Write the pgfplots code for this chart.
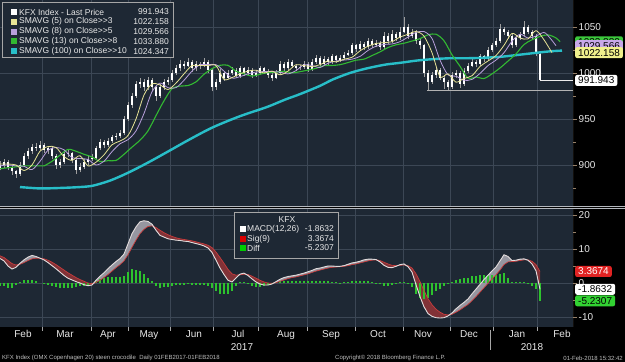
\documentclass[border=0pt]{standalone}
\usepackage{pgfplots}
\pgfplotsset{compat=1.18}
\usepackage{pgfplotstable}
\usepgfplotslibrary{fillbetween}
\usepackage{fontspec}
\setmainfont{Liberation Sans}
\definecolor{bgc}{RGB}{30,40,52}
\definecolor{gridc}{RGB}{60,71,85}
\definecolor{axc}{RGB}{150,128,105}
\definecolor{sma5}{RGB}{232,228,150}
\definecolor{sma8}{RGB}{185,160,220}
\definecolor{sma13}{RGB}{50,185,50}
\definecolor{sma100}{RGB}{40,190,200}
\definecolor{macdc}{RGB}{225,220,220}
\definecolor{sigc}{RGB}{200,60,60}
\definecolor{bandr}{RGB}{130,50,55}
\definecolor{bandg}{RGB}{150,150,160}
\definecolor{histc}{RGB}{45,195,45}
\definecolor{footc}{RGB}{190,190,190}
\definecolor{txtc}{RGB}{232,232,232}
\definecolor{sepc}{RGB}{180,184,190}
\pagecolor{black}

\pgfplotstableread{
x o h l c
0 897 904 894 900
4 900 906 897 903
8 903 905 895 898
12 898 900 889 893
16 893 895 886 890
20 890 903 888 900
24 900 913 898 910
28 910 918 907 915
32 915 923 912 920
36 920 924 915 918
40 918 926 916 922
44 922 924 913 916
48 916 921 912 918
52 918 919 906 910
56 910 912 896 900
60 900 907 897 903
64 903 915 901 912
68 912 917 909 913
72 913 914 902 905
76 905 907 890 895
80 895 902 892 898
84 898 906 896 903
88 903 910 900 907
92 907 912 904 908
96 908 921 906 918
100 918 928 916 925
104 925 927 918 922
108 922 929 920 926
112 926 933 924 930
116 930 935 927 932
120 932 938 929 935
124 935 953 933 950
128 950 968 948 965
132 965 978 962 975
136 975 991 973 988
140 988 995 984 990
144 990 993 980 985
148 985 996 982 992
152 992 994 980 985
156 985 987 970 975
160 975 988 973 985
164 985 993 982 990
168 990 996 987 992
172 992 1003 990 1000
176 1000 1009 998 1005
180 1005 1014 1002 1010
184 1010 1013 1004 1008
188 1008 1016 1006 1012
192 1012 1014 1001 1005
196 1005 1013 1002 1010
200 1010 1012 1004 1008
204 1008 1016 1006 1012
208 1012 1014 1000 1003
212 1003 1005 980 985
216 985 993 982 990
220 990 1004 988 1000
224 1000 1002 991 995
228 995 1003 993 1000
232 1000 1007 998 1003
236 1003 1005 994 997
240 997 1008 995 1005
244 1005 1007 997 1000
248 1000 1006 998 1003
252 1003 1005 995 998
256 998 1003 996 1000
260 1000 1008 998 1005
264 1005 1007 999 1002
268 1002 1004 995 998
272 998 1000 991 995
276 995 1003 993 1000
280 1000 1013 998 1010
284 1010 1012 1002 1005
288 1005 1015 1003 1012
292 1012 1014 1005 1008
296 1008 1010 1002 1005
300 1005 1009 1003 1006
304 1006 1013 1004 1010
308 1010 1012 1001 1004
312 1004 1015 1002 1012
316 1012 1019 1010 1016
320 1016 1018 1007 1010
324 1010 1018 1008 1015
328 1015 1017 1009 1012
332 1012 1021 1010 1018
336 1018 1020 1011 1014
340 1014 1019 1012 1016
344 1016 1023 1014 1020
348 1020 1025 1018 1022
352 1022 1033 1020 1030
356 1030 1032 1023 1026
360 1026 1035 1024 1032
364 1032 1034 1025 1028
368 1028 1038 1026 1035
372 1035 1037 1027 1030
376 1030 1036 1028 1033
380 1033 1035 1025 1028
384 1028 1045 1026 1040
388 1040 1043 1032 1035
392 1035 1047 1033 1042
396 1042 1044 1035 1038
400 1038 1050 1036 1045
404 1045 1061 1043 1050
408 1050 1053 1037 1040
412 1040 1048 1038 1045
416 1045 1047 1032 1035
420 1035 1037 1026 1030
424 1030 1032 996 1000
428 1000 1003 981 990
432 990 1001 988 998
436 998 1006 995 1003
440 1003 1005 992 995
444 995 998 983 990
448 990 992 981 985
452 985 1001 983 998
456 998 1003 995 1000
460 1000 1002 984 988
464 988 1005 986 1002
468 1002 1011 1000 1008
472 1008 1015 1006 1012
476 1012 1014 1006 1010
480 1010 1021 1008 1018
484 1018 1020 1012 1015
488 1015 1028 1013 1025
492 1025 1033 1023 1030
496 1030 1038 1028 1035
500 1035 1053 1033 1048
504 1048 1050 1041 1045
508 1045 1047 1037 1040
512 1040 1042 1027 1030
516 1030 1041 1028 1038
520 1038 1045 1036 1042
524 1042 1057 1040 1050
528 1050 1052 1042 1045
532 1045 1047 1036 1040
536 1040 1042 1018 1022
540 1021 1023 991 991.9
}\price

\pgfplotstableread{
x y
0 901
8 901
16 900
24 894
32 900
40 915
48 920
56 919
64 909
72 905
80 910
88 899
96 903
104 911
112 922
120 926
128 932
136 950
144 976
152 988
160 987
168 982
176 989
184 999
192 1008
200 1008
208 1008
216 1008
224 993
232 995
240 999
248 1002
256 1003
264 1000
272 1002
280 998
288 1002
296 1009
304 1008
312 1007
320 1009
328 1013
336 1012
344 1015
352 1017
360 1024
368 1029
376 1032
384 1033
392 1034
400 1039
408 1042
416 1045
424 1040
432 1022
440 996
448 999
456 990
464 994
472 997
480 1007
488 1013
496 1019
504 1030
512 1043
520 1038
528 1037
536 1046
544 1036
552 1022
}\smaA

\pgfplotstableread{
x y
0 899
8 900
16 899
24 898.5
32 895
40 904
48 916
56 919
64 916.5
72 908
80 907
88 906
96 900
104 904
112 914.5
120 923
128 927.5
136 937
144 956
152 979.5
160 989
168 984
176 984
184 992
192 1002
200 1009
208 1009
216 1009
224 1002
232 994.5
240 996
248 999
256 1001
264 1001.5
272 1001.5
280 1001
288 999
296 1002.5
304 1009
312 1008
320 1006
328 1010.5
336 1013
344 1014
352 1015
360 1018
368 1024.5
376 1029
384 1031
392 1031.5
400 1034
408 1039
416 1044
424 1045
432 1037.5
440 1014
448 998
456 996.5
464 992
472 993
480 999.5
488 1008
496 1014
504 1022
512 1034.5
520 1042
528 1038
536 1040
544 1044
550 1038
556 1029.6
}\smaB

\pgfplotstableread{
x y
0 896
8 897
16 898
24 899
32 899
40 899
44 899
52 904
60 910.7
68 917
76 914.9
84 911.6
92 908.7
100 903.7
108 904.7
116 904.9
124 911.6
132 919.4
140 926.9
148 937.1
156 953.6
164 969.7
172 982.9
180 985.7
188 986.3
196 990.3
204 998.6
212 1004.6
220 1008.3
228 1008.3
236 1001.9
244 999
252 996.6
260 998.6
268 1000.4
276 1000.9
284 1001.9
292 1000.1
300 1001.4
308 1003.1
316 1005
324 1008
332 1008.1
340 1009
348 1011.3
356 1013.9
364 1015
372 1018.9
380 1022.9
388 1027.6
396 1030.6
404 1032.3
412 1034.7
420 1037.3
428 1041.4
436 1042.1
444 1035
452 1019.7
460 1007.3
468 994.4
476 995.6
484 994
492 999
500 1005.4
508 1012.9
516 1020.7
524 1030.9
532 1036.1
540 1039.7
548 1041.4
556 1038.1
560 1033.9
}\smaC

\pgfplotstableread{
x y
20 876
40 874.5
60 875
80 876
93 877.5
110 883
127 891
147 902
167 914
190 928
213 941
240 953
267 963
285 971
300 977
320 986
333 993
350 1000
367 1005
385 1009
400 1011
417 1013.5
433 1015
450 1016
467 1016
483 1016.5
500 1017.5
517 1019.5
533 1021.5
550 1023.5
562 1024.3
}\smaD

\pgfplotstableread{
x m s
0 7.2 8.0
4 6.5 7.5
8 5.0 6.6
12 4.1 5.7
16 4.6 5.3
20 5.8 5.5
24 6.8 6.0
28 7.6 6.6
32 8.1 7.1
36 7.8 7.3
40 7.3 7.3
44 6.8 7.1
48 6.0 6.7
52 5.1 6.1
56 4.2 5.4
60 3.2 4.6
64 2.2 3.8
68 1.4 3.0
72 0.9 2.3
76 0.4 1.6
80 0.0 1.0
84 -0.5 0.5
88 -0.8 0.0
92 -0.6 -0.2
96 0.8 0.2
100 2.0 0.8
104 3.0 1.6
108 4.2 2.5
112 5.3 3.5
116 6.3 4.5
120 7.2 5.4
124 8.5 6.5
128 11.5 8.3
132 14.5 10.5
136 16.5 12.6
140 18.0 14.5
144 18.3 15.8
148 18.1 16.6
152 17.3 16.8
156 15.5 16.3
160 14.0 15.5
164 13.5 14.8
168 13.0 14.2
172 12.8 13.7
176 12.6 13.3
180 12.5 13.0
184 12.3 12.8
188 12.2 12.6
192 11.9 12.4
196 11.6 12.1
200 11.3 11.8
204 10.9 11.5
208 10.3 11.1
212 9.0 10.4
216 6.7 9.1
220 4.4 7.5
224 2.5 5.8
228 0.8 4.0
232 0.3 2.7
236 1.5 2.3
240 2.6 2.4
244 2.9 2.6
248 2.2 2.5
252 1.2 2.0
256 0.3 1.4
260 -0.3 0.8
264 -0.6 0.3
268 -0.6 0.0
272 -0.3 -0.1
276 0.4 0.1
280 1.1 0.5
284 1.6 0.9
288 1.9 1.3
292 2.1 1.6
296 2.3 1.8
300 2.6 2.1
304 2.9 2.4
308 3.3 2.7
312 3.7 3.1
316 4.2 3.5
320 4.4 3.8
324 4.7 4.1
328 5.0 4.4
332 5.0 4.6
336 4.9 4.7
340 4.9 4.8
344 5.1 4.9
348 5.5 5.1
352 5.9 5.4
356 6.1 5.6
360 6.4 5.9
364 6.8 6.2
368 7.0 6.5
372 7.0 6.7
376 6.9 6.8
380 6.2 6.6
384 5.2 6.1
388 4.6 5.6
392 4.5 5.2
396 4.9 5.1
400 5.4 5.2
404 5.6 5.3
408 4.8 5.1
412 3.2 4.4
416 -0.5 2.7
420 -4.0 0.4
424 -7.0 -2.2
428 -9.0 -4.6
432 -9.8 -6.4
436 -10.2 -7.7
440 -10.3 -8.6
444 -10.2 -9.2
448 -9.7 -9.4
452 -8.8 -9.2
456 -7.6 -8.6
460 -6.6 -7.9
464 -5.7 -7.1
468 -4.7 -6.3
472 -3.2 -5.2
476 -1.8 -4.0
480 -0.4 -2.7
484 1.0 -1.4
488 2.3 -0.1
492 3.5 1.2
496 4.7 2.4
500 6.5 3.8
504 8.3 5.4
508 7.8 6.2
512 6.6 6.3
516 6.7 6.4
520 7.0 6.6
524 7.1 6.8
528 6.7 6.8
532 5.6 6.4
536 3.6 5.4
540 -1.86 3.37
}\macd

\begin{document}
\begin{tikzpicture}

% ---------- upper panel ----------
\begin{axis}[at={(0pt,156pt)}, anchor=south west,
  width=573pt, height=206pt, scale only axis,
  xmin=0, xmax=573, ymin=855.4, ymax=1079.3,
  axis background/.style={fill=bgc},
  axis line style={draw=none},
  xtick={42,91,128,170,213,258,307,355,403,450,493,537}, xticklabels={},
  x tick style={draw=none},
  ytick={900,950,1000,1050}, minor ytick={875,925,975,1025},
  ytick pos=right, yticklabel pos=right, tick align=outside,
  y tick style={axc, line width=0.6pt},
  major tick length=4pt, minor tick length=2.5pt,
  grid=major, major grid style={gridc, line width=0.6pt},
  yticklabel style={text=txtc, font=\fontsize{10}{12}\selectfont, inner xsep=1.5pt},
  /pgf/number format/assume math mode=true,
  /pgf/number format/1000 sep={},
]
\addplot[gray!75, line width=0.6pt, quiver={u=0, v=\thisrow{h}-\thisrow{l}}]
  table[x=x, y=l] {\price};
\addplot[white, line width=1.8pt, quiver={u=0, v={abs(\thisrow{c}-\thisrow{o})}}]
  table[x=x, y expr={min(\thisrow{o},\thisrow{c})}] {\price};
\addplot[sma100, line width=2.4pt, smooth] table[x=x,y=y] {\smaD};
\addplot[sma13, line width=1.1pt, smooth] table[x=x,y=y] {\smaC};
\addplot[sma8, line width=0.8pt, smooth] table[x=x,y=y] {\smaB};
\addplot[sma5, line width=0.8pt, smooth] table[x=x,y=y] {\smaA};
\addplot[gray!60, line width=0.6pt] coordinates {(427,981) (573,981)};
\addplot[white!85!gray, line width=0.6pt] coordinates {(540,991.943) (573,991.943)};
\draw[axc, line width=0.6pt] (rel axis cs:1,0) -- (rel axis cs:1,1);
\end{axis}

% ---------- lower panel ----------
\begin{axis}[at={(0pt,35pt)}, anchor=south west,
  width=573pt, height=118pt, scale only axis,
  xmin=0, xmax=573, ymin=-12.94, ymax=21.76,
  axis background/.style={fill=bgc},
  axis line style={draw=none},
  xtick={42,91,128,170,213,258,307,355,403,450,493,537}, xticklabels={},
  extra x ticks={23,65,108,149,194,238,286,331,378,423,469,517,562},
  extra x tick labels={Feb,Mar,Apr,May,Jun,Jul,Aug,Sep,Oct,Nov,Dec,Jan,Feb},
  extra x tick style={grid=none, major tick length=0pt},
  xtick pos=bottom, x tick style={gray!70, line width=0.6pt},
  xticklabel style={text=txtc, font=\fontsize{10}{12}\selectfont},
  ytick={-10,0,10,20}, minor ytick={-5,5,15},
  ytick pos=right, yticklabel pos=right, tick align=outside,
  y tick style={axc, line width=0.6pt},
  major tick length=4pt, minor tick length=2.5pt,
  grid=major, major grid style={gridc, line width=0.6pt},
  yticklabel style={text=txtc, font=\fontsize{10}{12}\selectfont, inner xsep=1.5pt},
  /pgf/number format/assume math mode=true,
]
\addplot[draw=none, name path=M] table[x=x,y=m] {\macd};
\addplot[draw=none, name path=U] table[x=x,y expr={max(\thisrow{m},\thisrow{s})}] {\macd};
\addplot[draw=none, name path=L] table[x=x,y expr={min(\thisrow{m},\thisrow{s})}] {\macd};
\addplot[bandr] fill between[of=M and U];
\addplot[bandg] fill between[of=M and L];
\addplot[histc, line width=1.5pt, quiver={u=0, v=\thisrow{m}-\thisrow{s}}]
  table[x=x, y expr=0] {\macd};
\addplot[sigc, line width=0.7pt] table[x=x,y=s] {\macd};
\addplot[macdc, line width=0.9pt] table[x=x,y=m] {\macd};
\draw[axc, line width=0.6pt] (rel axis cs:1,0) -- (rel axis cs:1,1);
\end{axis}

% panel separator
\draw[sepc, line width=0.9pt] (0pt,156pt) -- (625pt,156pt);
\draw[sepc, line width=0.9pt] (0pt,153.6pt) -- (625pt,153.6pt);

% upper legend
\fill[bgc] (2pt,305pt) rectangle (173pt,360pt);
\draw[gray!70, line width=0.6pt] (2pt,305pt) rectangle (173pt,360pt);
\begin{scope}[every node/.style={font=\fontsize{8.5}{10}\selectfont, text=txtc, inner sep=0pt}]
\fill[white]  (11pt,347pt) rectangle ++(6pt,6pt);
\fill[sma5]   (11pt,337.2pt) rectangle ++(6pt,6pt);
\fill[sma8]   (11pt,327.4pt) rectangle ++(6pt,6pt);
\fill[sma13]  (11pt,317.6pt) rectangle ++(6pt,6pt);
\fill[sma100] (11pt,307.8pt) rectangle ++(6pt,6pt);
\node[anchor=west] at (19pt,350pt) {KFX Index - Last Price};
\node[anchor=west] at (19pt,340.2pt) {SMAVG (5) on Close>{}>3};
\node[anchor=west] at (19pt,330.4pt) {SMAVG (8) on Close>{}>5};
\node[anchor=west] at (19pt,320.6pt) {SMAVG (13) on Close>{}>8};
\node[anchor=west] at (19pt,310.8pt) {SMAVG (100) on Close>{}>10};
\node[anchor=east] at (169pt,350pt) {991.943};
\node[anchor=east] at (169pt,340.2pt) {1022.158};
\node[anchor=east] at (169pt,330.4pt) {1029.566};
\node[anchor=east] at (169pt,320.6pt) {1033.880};
\node[anchor=east] at (169pt,310.8pt) {1024.347};
\end{scope}

% lower legend
\fill[bgc] (234pt,104pt) rectangle (338pt,150pt);
\draw[gray!70, line width=0.6pt] (234pt,104pt) rectangle (338pt,150pt);
\begin{scope}[every node/.style={font=\fontsize{8.5}{10}\selectfont, text=txtc, inner sep=0pt}]
\node at (287pt,142pt) {KFX};
\fill[white] (240pt,130.3pt) rectangle ++(5.5pt,5.5pt);
\fill[red!85!black] (240pt,120.3pt) rectangle ++(5.5pt,5.5pt);
\fill[green!80!black] (240pt,111.3pt) rectangle ++(5.5pt,5.5pt);
\node[anchor=west] at (247pt,133pt) {MACD(12,26)};
\node[anchor=west] at (247pt,123pt) {Sig(9)};
\node[anchor=west] at (247pt,114pt) {Diff};
\node[anchor=east] at (334pt,133pt) {-1.8632};
\node[anchor=east] at (334pt,123pt) {3.3674};
\node[anchor=east] at (334pt,114pt) {-5.2307};
\end{scope}

% right value tags
\begin{scope}[every node/.style={anchor=west, font=\fontsize{10}{12}\selectfont, inner xsep=3pt, inner ysep=0pt, minimum height=11pt, rounded corners=2pt}]
\node[fill={rgb,255:red,60;green,200;blue,60}, text=black] at (575pt,320.2pt) {1033.880};
\node[fill={rgb,255:red,200;green,168;blue,232}, text=black] at (575pt,316.3pt) {1029.566};
\node[fill={rgb,255:red,240;green,240;blue,140}, text=black] at (575pt,309.4pt) {1022.158};
\node[fill=white, text=black] at (575pt,281.6pt) {991.943};
\node[fill={rgb,255:red,225;green,35;blue,35}, text=white] at (575pt,90.5pt) {3.3674};
\node[fill=white, text=black] at (575pt,72.7pt) {-1.8632};
\node[fill={rgb,255:red,50;green,210;blue,50}, text=black] at (575pt,61.2pt) {-5.2307};
\end{scope}

% years and footer
\node[text=txtc, font=\fontsize{10}{12}\selectfont] at (242pt,15pt) {2017};
\node[text=txtc, font=\fontsize{10}{12}\selectfont] at (532pt,15pt) {2018};
\draw[gray!70, line width=0.6pt] (490pt,32pt) -- (490pt,12pt);
\begin{scope}[every node/.style={font=\fontsize{6}{7}\selectfont, text=footc, inner sep=0pt}]
\node[anchor=west] at (2pt,4pt) {KFX Index (OMX Copenhagen 20) steen crocodile\ \ Daily 01FEB2017-01FEB2018};
\node[anchor=west] at (335pt,4pt) {Copyright\textcopyright{} 2018 Bloomberg Finance L.P.};
\node[anchor=east] at (623pt,4pt) {01-Feb-2018 15:32:42};
\end{scope}
\pgfresetboundingbox
\path[use as bounding box] (0pt,0pt) rectangle (625pt,362pt);
\end{tikzpicture}
\end{document}
